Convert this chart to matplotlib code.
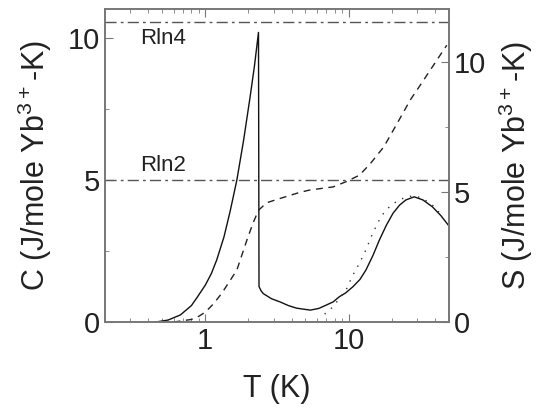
import matplotlib
matplotlib.use('Agg')
import matplotlib.pyplot as plt
from matplotlib.ticker import LogLocator, NullFormatter, FixedLocator, FuncFormatter

plt.rcParams['font.family'] = ['Liberation Sans', 'DejaVu Sans']
plt.rcParams['mathtext.default'] = 'regular'

# specific heat C(T), solid line (left axis)
T_C = [0.45, 0.55, 0.67, 0.8, 0.88, 1.0, 1.1, 1.2, 1.35, 1.49, 1.66, 1.85, 2.05, 2.2, 2.35,
       2.37, 2.45, 2.54, 2.9, 3.32, 3.8, 4.33, 4.9, 5.4, 6.2, 7.0, 7.8, 8.66, 9.5, 10.7,
       12.0, 13.2, 14.8, 16.4, 18.3, 20.4, 22.7, 25.1, 28.7, 33.0, 38.4, 44.0, 49.5]
C_vals = [0.0, 0.07, 0.25, 0.58, 0.88, 1.3, 1.7, 2.18, 3.0, 3.9, 5.0, 6.4, 7.9, 9.0, 10.2,
          1.25, 1.1, 1.0, 0.82, 0.71, 0.58, 0.49, 0.45, 0.42, 0.48, 0.6, 0.71, 0.9, 1.02, 1.24,
          1.5, 1.83, 2.35, 2.89, 3.4, 3.83, 4.12, 4.3, 4.41, 4.3, 4.06, 3.75, 3.42]

# dotted fit curve (left axis)
T_fit = [6.8, 7.8, 8.66, 9.6, 10.7, 11.9, 13.2, 14.7, 16.8, 18.7, 21.5, 25.0, 28.7, 33.0, 38.4, 44.0]
C_fit = [0.28, 0.54, 0.84, 1.13, 1.65, 2.07, 2.54, 3.12, 3.71, 4.0, 4.24, 4.4, 4.45, 4.35, 4.12, 3.8]

# entropy S(T), dashed line (right axis)
T_S = [0.6, 0.8, 0.9, 1.0, 1.14, 1.3, 1.45, 1.66, 1.95, 2.15, 2.35, 2.68, 3.3, 4.57, 5.36,
       7.8, 9.6, 11.9, 14.2, 17.6, 21.8, 26.9, 33.3, 41.3, 48.4]
S_vals = [0.0, 0.1, 0.22, 0.38, 0.7, 1.1, 1.5, 2.0, 3.15, 3.8, 4.3, 4.59, 4.75, 4.99, 5.08,
          5.2, 5.4, 5.65, 6.1, 6.74, 7.64, 8.54, 9.3, 10.08, 10.65]

# reference levels (right axis units)
rln_labels = ['Rln4', 'Rln2']
rln_levels = [11.55, 5.46]
rln_text_y = [10.0, 5.5]  # left axis units

fig = plt.figure(figsize=(5.42, 4.15), dpi=100)
ax1 = fig.add_axes([0.194, 0.224, 0.634, 0.754])
ax2 = ax1.twinx()

spine_col = '#777777'
txt_col = '#222222'

ax1.plot(T_C, C_vals, color='#111111', lw=1.0)
ax1.plot(T_fit, C_fit, color='#333333', lw=1.0, linestyle=(0, (1, 5)))
ax2.plot(T_S, S_vals, color='#222222', lw=1.0, linestyle=(0, (5, 4)))

for lab, lev, ty in zip(rln_labels, rln_levels, rln_text_y):
    ax2.axhline(lev, color='#555555', lw=1.0, linestyle=(0, (8, 3, 2, 3)))
    ax1.text(0.35, ty, lab, fontsize=16, color=txt_col, va='center', ha='left')

ax1.set_xscale('log')
ax1.set_xlim(0.2, 50)
ax1.set_ylim(0, 11.02)
ax2.set_ylim(0, 12.04)

ax1.xaxis.set_major_locator(FixedLocator([1, 10]))
ax1.xaxis.set_major_formatter(FuncFormatter(lambda v, p: '%g' % v))
ax1.xaxis.set_minor_locator(LogLocator(base=10, subs=range(2, 10)))
ax1.xaxis.set_minor_formatter(NullFormatter())
ax1.set_yticks([0, 5, 10])
ax1.set_yticks([2.5, 7.5], minor=True)
ax2.set_yticks([0, 5, 10])
ax2.set_yticks([2.5, 7.5], minor=True)

ax1.tick_params(which='both', direction='in', top=True, right=False, color=spine_col,
                labelsize=21, labelcolor=txt_col)
ax1.tick_params(which='major', length=6)
ax1.tick_params(which='minor', length=3)
ax2.tick_params(which='both', direction='in', color=spine_col, labelsize=21, labelcolor=txt_col)
ax2.tick_params(which='major', length=6)
ax2.tick_params(which='minor', length=3)

for ax in (ax1, ax2):
    for s in ax.spines.values():
        s.set_color(spine_col)
        s.set_linewidth(1.2)

ax1.set_xlabel('T (K)', fontsize=22, color=txt_col, labelpad=14)
ax1.set_ylabel('C (J/mole Yb$^{3+}$-K)', fontsize=22, color=txt_col, labelpad=10)
ax2.set_ylabel('S (J/mole Yb$^{3+}$-K)', fontsize=22, color=txt_col, labelpad=8)

fig.savefig('out.png', dpi=100)
